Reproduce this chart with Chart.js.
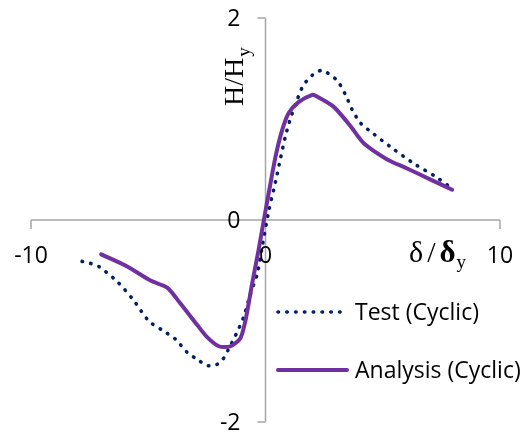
<!DOCTYPE html>
<html>
<head>
<meta charset="utf-8">
<script src="https://cdn.jsdelivr.net/npm/chart.js@4.4.1/dist/chart.umd.min.js"></script>
<style>
  html, body { margin: 0; padding: 0; background: #fff; }
  #wrap { width: 527px; height: 434px; }
</style>
</head>
<body>
<div id="wrap"><canvas id="hysteresis" width="527" height="434"></canvas></div>
<script>
// skeleton curves, normalised displacement vs normalised load
const testX = [-7.82, -7.46, -7.11, -6.32, -5.64, -4.98, -4.41, -3.84, -3.34, -2.85, -2.49, -2.16, -1.85, -1.49, -1.21, -0.93, -0.64, -0.35, -0.14, 0.14, 0.43, 0.64, 0.85, 1.07, 1.35, 1.63, 2.13, 2.46, 3.06, 3.41, 3.70, 4.05, 4.62, 5.47, 6.32, 7.25, 7.85];
const testY = [-0.41, -0.43, -0.46, -0.61, -0.79, -1.00, -1.09, -1.18, -1.31, -1.39, -1.44, -1.44, -1.39, -1.24, -1.11, -0.96, -0.73, -0.53, -0.26, 0.09, 0.38, 0.61, 0.83, 1.01, 1.19, 1.34, 1.46, 1.48, 1.38, 1.24, 1.09, 0.96, 0.85, 0.70, 0.56, 0.43, 0.33];

const analysisX = [-7.01, -5.90, -4.90, -4.19, -3.62, -2.91, -2.49, -1.99, -1.49, -1.07, -0.85, -0.57, -0.29, -0.07, 0.14, 0.43, 0.71, 0.99, 1.42, 1.99, 2.13, 2.91, 3.62, 4.19, 5.19, 6.04, 7.04, 7.96];
const analysisY = [-0.34, -0.46, -0.60, -0.67, -0.83, -1.04, -1.16, -1.25, -1.25, -1.17, -0.99, -0.63, -0.29, 0.00, 0.27, 0.63, 0.89, 1.06, 1.17, 1.24, 1.23, 1.12, 0.93, 0.76, 0.60, 0.51, 0.40, 0.30];

const seriesNames = ['Test (Cyclic)', 'Analysis (Cyclic)'];
const xTicks = [-10, 0, 10];
const yTicks = [-2, 0, 2];

const labelFont = '23px "Open Sans"';

function toPoints(xs, ys) {
    return xs.map((v, i) => ({ x: v, y: ys[i] }));
}

// axes crossing at the origin, tick labels, titles and the legend
const crossAxes = {
    id: 'crossAxes',
    beforeDatasetsDraw(chart) {
        const ctx = chart.ctx;
        const x = chart.scales.x;
        const y = chart.scales.y;
        const x0 = x.getPixelForValue(0);
        const y0 = y.getPixelForValue(0);
        ctx.save();
        ctx.strokeStyle = '#a6a6a6';
        ctx.lineWidth = 1.5;
        ctx.beginPath();
        ctx.moveTo(x.left, y0);
        ctx.lineTo(x.right, y0);
        ctx.moveTo(x0, y.top);
        ctx.lineTo(x0, y.bottom);
        xTicks.forEach(function (v) {
            const px = x.getPixelForValue(v);
            ctx.moveTo(px, y0);
            ctx.lineTo(px, y0 + 9);
        });
        yTicks.forEach(function (v) {
            const py = y.getPixelForValue(v);
            ctx.moveTo(x0 - 8, py);
            ctx.lineTo(x0, py);
        });
        ctx.stroke();
        ctx.restore();
    },
    afterDraw(chart) {
        const ctx = chart.ctx;
        const x = chart.scales.x;
        const y = chart.scales.y;
        const x0 = x.getPixelForValue(0);
        const y0 = y.getPixelForValue(0);

        ctx.save();
        ctx.fillStyle = '#000';
        ctx.font = labelFont;
        ctx.textBaseline = 'alphabetic';

        ctx.textAlign = 'center';
        xTicks.forEach(function (v) {
            ctx.fillText(String(v), x.getPixelForValue(v), y0 + 43);
        });
        ctx.textAlign = 'right';
        yTicks.forEach(function (v) {
            ctx.fillText(String(v), x0 - 25, y.getPixelForValue(v) + 8);
        });

        // horizontal axis title: δ / δy
        ctx.textAlign = 'left';
        let tx = 409;
        ctx.font = '30px "Liberation Serif"';
        ctx.fillText('δ', tx, 262);
        tx += ctx.measureText('δ').width + 4;
        ctx.fillText('/', tx, 262);
        tx += ctx.measureText('/').width + 4;
        ctx.font = 'bold 31px "Liberation Serif"';
        ctx.fillText('δ', tx, 262);
        tx += ctx.measureText('δ').width + 1;
        ctx.font = '19px "Liberation Serif"';
        ctx.fillText('y', tx, 268);

        // vertical axis title: H/Hy
        ctx.save();
        ctx.translate(243, 106);
        ctx.rotate(-Math.PI / 2);
        ctx.font = '28px "Liberation Serif"';
        ctx.fillText('H/H', 0, 0);
        const w = ctx.measureText('H/H').width;
        ctx.font = '19px "Liberation Serif"';
        ctx.fillText('y', w + 1, 7);
        ctx.restore();

        // legend
        const rows = [312, 370];
        chart.data.datasets.forEach(function (ds, i) {
            const ly = rows[i];
            ctx.save();
            ctx.strokeStyle = ds.borderColor;
            ctx.lineWidth = ds.borderWidth;
            ctx.lineCap = ds.borderCapStyle || 'butt';
            ctx.setLineDash(ds.borderDash || []);
            ctx.beginPath();
            ctx.moveTo(278, ly);
            ctx.lineTo(347, ly);
            ctx.stroke();
            ctx.restore();
            ctx.font = labelFont;
            ctx.textAlign = 'left';
            ctx.fillText(ds.label, 355, ly + 8);
        });
        ctx.restore();
    }
};

document.addEventListener("DOMContentLoaded", function () {
    const ctx = document.getElementById('hysteresis').getContext('2d');
    new Chart(ctx, {
        type: 'scatter',
        data: {
            datasets: [{
                label: seriesNames[0],
                data: toPoints(testX, testY),
                showLine: true,
                borderColor: '#002060',
                borderWidth: 3.6,
                borderDash: [0.5, 8.3],
                borderCapStyle: 'round',
                pointRadius: 0,
                tension: 0.25,
                order: 1
            }, {
                label: seriesNames[1],
                data: toPoints(analysisX, analysisY),
                showLine: true,
                borderColor: '#7030a0',
                borderWidth: 4,
                borderCapStyle: 'round',
                borderJoinStyle: 'round',
                pointRadius: 0,
                tension: 0.25,
                order: 0
            }]
        },
        options: {
            responsive: false,
            animation: false,
            devicePixelRatio: 1,
            layout: {
                padding: { left: 31, right: 27, top: 18, bottom: 12 }
            },
            plugins: {
                legend: { display: false },
                tooltip: { enabled: false }
            },
            scales: {
                x: { type: 'linear', min: -10, max: 10, display: false },
                y: { type: 'linear', min: -2, max: 2, display: false }
            }
        },
        plugins: [crossAxes]
    });
});
</script>
</body>
</html>
